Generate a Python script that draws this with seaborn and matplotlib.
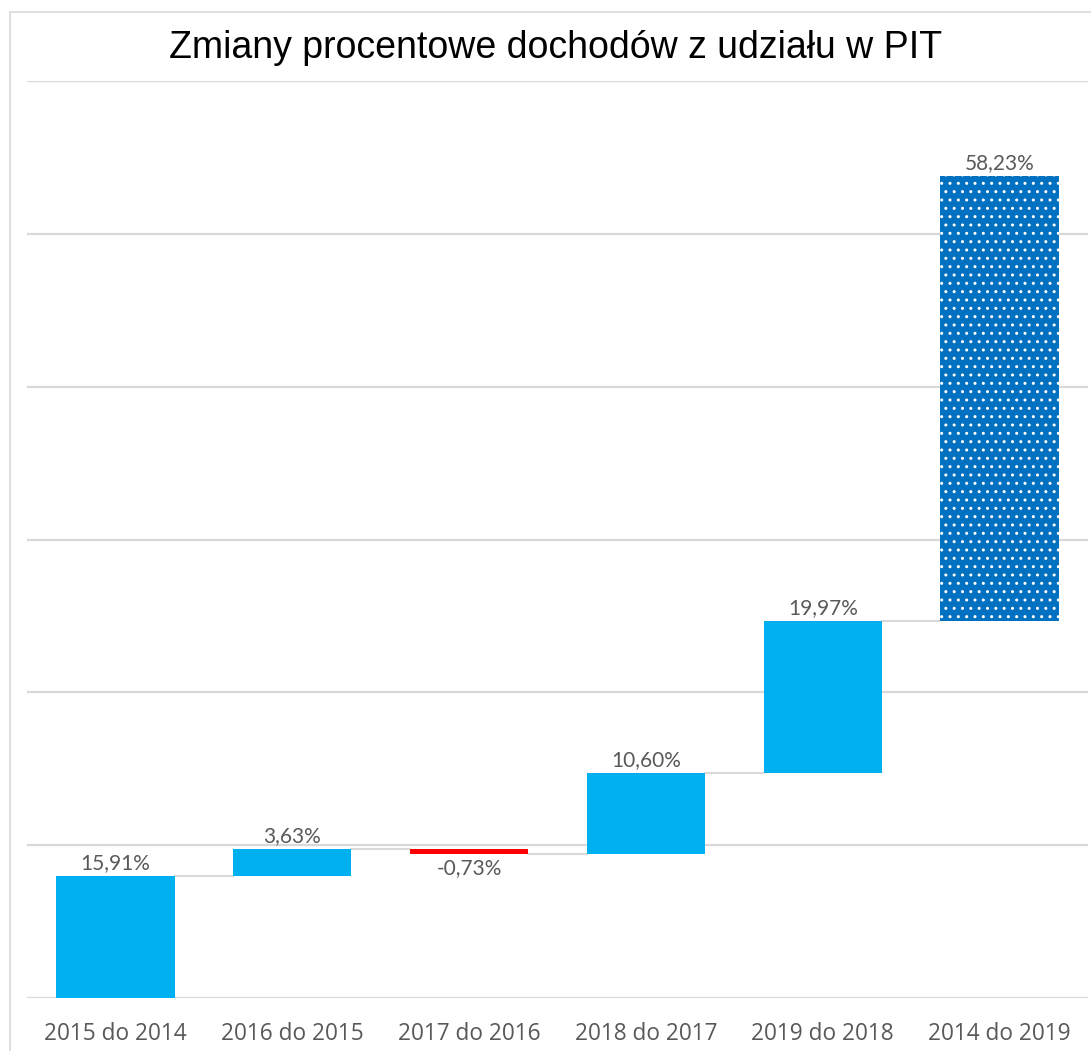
import numpy as np
import pandas as pd
import matplotlib
matplotlib.use("Agg")
import matplotlib.pyplot as plt
import seaborn as sns
from matplotlib.patches import Rectangle

categories = ["2015 do 2014", "2016 do 2015", "2017 do 2016", "2018 do 2017", "2019 do 2018", "2014 do 2019"]
changes = [15.91, 3.63, -0.73, 10.60, 19.97]
total = 58.23
labels = ["15,91%", "3,63%", "-0,73%", "10,60%", "19,97%", "58,23%"]

cum = np.cumsum(changes)
starts = np.concatenate([[0], cum[:-1]])
bottoms = list(np.minimum(starts, cum)) + [cum[-1]]
heights = list(np.abs(changes)) + [total]
ends = list(cum) + [cum[-1] + total]

df = pd.DataFrame({"cat": categories, "h": heights, "b": bottoms})

sns.set_theme(style="white")
plt.rcParams["font.family"] = ["Open Sans", "DejaVu Sans"]

fig = plt.figure(figsize=(10.91, 10.51), dpi=100)
ax = fig.add_axes([27/1091, (1051-998)/1051, (1088-27)/1091, (998-81)/1051])

bw = 0.67
sns.barplot(data=df, x="cat", y="h", bottom=df["b"].values, color="#00B0F0",
            width=bw, ax=ax, saturation=1, linewidth=0, zorder=3)

cols = ["#00B0F0", "#00B0F0", "#FF0000", "#00B0F0", "#00B0F0", "#0070C0"]
for i, p in enumerate(ax.patches):
    p.set_facecolor(cols[i])
    p.set_linewidth(0)
    if i == 5:
        p.set_hatch("..")
        p.set_edgecolor("white")

# connectors
for i in range(5):
    ax.plot([i + bw/2, i + 1 - bw/2], [cum[i], cum[i]], color="#D9D9D9", lw=1.5, zorder=2)

# gridlines
for yv in range(0, 121, 20):
    ax.axhline(yv, color="#D9D9D9", lw=1.6, zorder=1)

ax.set_xlim(-0.5, 5.5)
ax.set_ylim(0, 120)
ax.set_yticks([])
ax.set_xlabel("")
ax.set_ylabel("")
for s in ax.spines.values():
    s.set_visible(False)
ax.tick_params(axis="x", length=0, pad=17, labelsize=16.3, labelcolor="#595959")

for i in range(6):
    if i < 5 and changes[i] < 0:
        ax.text(i, bottoms[i] - 0.5, labels[i], ha="center", va="top", fontsize=15,
                color="#595959", family=["Lato", "DejaVu Sans"])
    else:
        ax.text(i, ends[i] + 0.4, labels[i], ha="center", va="bottom", fontsize=15,
                color="#595959", family=["Lato", "DejaVu Sans"])

fig.text(556/1091, 1 - 48/1051, "Zmiany procentowe dochodów z udziału w PIT", ha="center", va="center",
         fontsize=27, color="black", family=["Liberation Sans", "DejaVu Sans"])

fig.patches.append(Rectangle((10/1091, -0.05), 1.2, 0.05 + (1051-12)/1051, transform=fig.transFigure,
                             fill=False, edgecolor="#D9D9D9", lw=1.2))

fig.savefig("out.png", dpi=100)
